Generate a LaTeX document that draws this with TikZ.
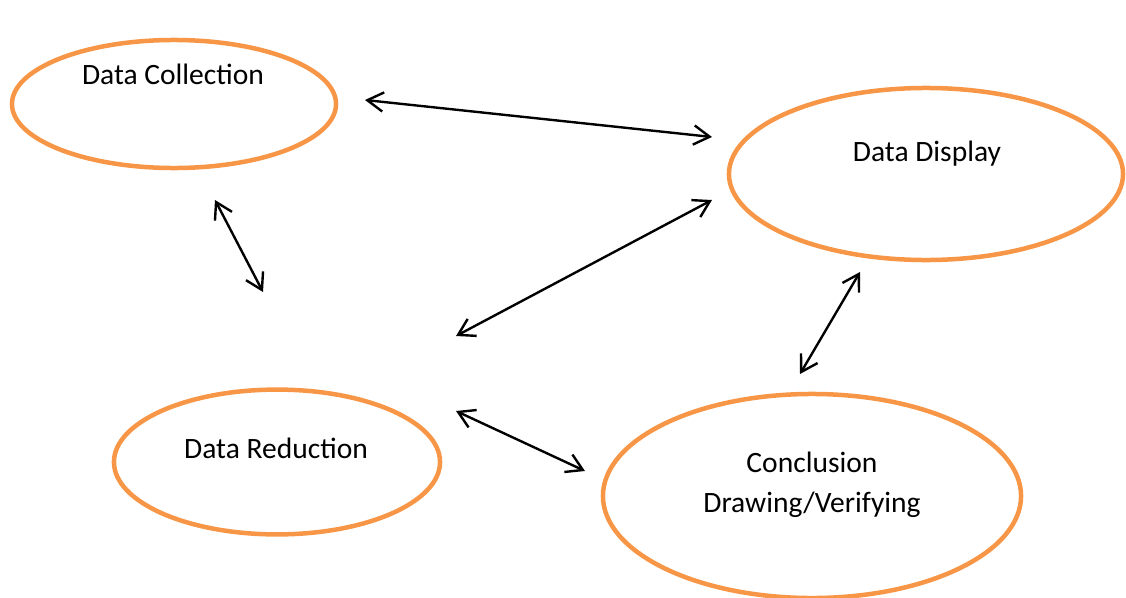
\documentclass[tikz,border=0pt]{standalone}
\usepackage{fontspec}
\setmainfont{Carlito}
\usepackage{tikz}
\usetikzlibrary{shapes,arrows.meta}
\definecolor{accent}{HTML}{F79646}

\begin{document}
\begin{tikzpicture}[x=0.025cm,y=-0.025cm,<->,>={Straight Barb[length=4mm,width=4.8mm]},line width=1.7pt]
\tikzstyle{blob}=[ellipse,draw=accent,line width=3.2pt,inner sep=0pt]
\tikzstyle{lbl}=[font=\fontsize{21}{28.5}\selectfont,align=center,inner sep=0pt]
\useasboundingbox (0,0) rectangle (1126,598);
% ovals
\node[blob,minimum width=8.1cm,minimum height=3.2cm] (coll) at (174,104) {};
\node[blob,minimum width=9.85cm,minimum height=4.3cm] (disp) at (926,174) {};
\node[blob,minimum width=8.15cm,minimum height=3.62cm] (red) at (277,462) {};
\node[blob,minimum width=10.45cm,minimum height=5.1cm] (concl) at (812,496) {};
% texts
\node[lbl] (collT) at (173,74) {Data Collection};
\node[lbl] (dispT) at (927,154) {Data Display};
\node[lbl] (redT) at (276,448) {Data Reduction};
\node[lbl] (conclT) at (812,485) {Conclusion\\Drawing/Verifying};
% arrow ends
\coordinate (c1) at (365,100);
\coordinate (d1) at (712,137);
\coordinate (c2) at (215,200);
\coordinate (r2) at (263,292);
\coordinate (r3) at (456,336);
\coordinate (d3) at (712,200);
\coordinate (k4) at (800,374);
\coordinate (d4) at (860,272);
\coordinate (r5) at (456,411);
\coordinate (k5) at (585,471);
\draw (c1)--(d1);
\draw (c2)--(r2);
\draw (r3)--(d3);
\draw (k4)--(d4);
\draw (r5)--(k5);
\end{tikzpicture}
\end{document}
